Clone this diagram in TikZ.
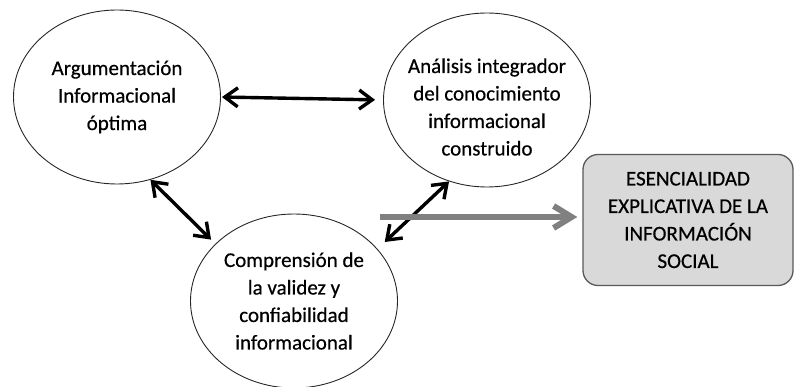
\documentclass[tikz,border=0pt]{standalone}
\usepackage{fontspec}
\setmainfont{Carlito}[FakeBold=0.5]
\usetikzlibrary{shapes.geometric, arrows.meta, positioning}

\begin{document}
\begin{tikzpicture}[
			x=1pt, y=-1pt,
			font=\fontsize{21}{27.5}\selectfont,
			% Style for the three ideas
			idea/.style={
				ellipse, draw=black!85, line width=0.9pt,
				minimum width=207pt, minimum height=174pt,
				inner sep=0pt, align=center
			},
			% Style for the final box
			result/.style={
				rectangle, rounded corners=15pt, draw=black!65, line width=1.3pt,
				fill=black!15, minimum width=210pt, minimum height=131pt,
				align=center
			},
			% Connectors
			link/.style={{Straight Barb[length=13pt,width=19pt]}-{Straight Barb[length=13pt,width=19pt]}, line width=3.4pt, black},
			leads/.style={-{Straight Barb[length=18pt,width=22pt]}, line width=6pt, black!50}
			]
			
			\useasboundingbox (0,0) rectangle (798,387);
			
			% ==============================================================================
			% IDEAS
			% ==============================================================================
			\node[idea] (Arg) at (117, 97) {Argumentación\\Informacional\\óptima};
			\node[idea] (Ana) at (487, 100) {};
			\node[align=center] (AnaText) at (487, 107) {Análisis integrador\\del conocimiento\\informacional\\construido};
			\node[idea] (Comp) at (294, 301) {Comprensión de\\la validez y\\confiabilidad\\informacional};
			
			% ==============================================================================
			% RESULT
			% ==============================================================================
			\node[result] (Res) at (688, 220) {ESENCIALIDAD\\EXPLICATIVA DE LA\\INFORMACIÓN\\SOCIAL};
			
			% ==============================================================================
			% CONNECTORS
			% ==============================================================================
			\draw[link, shorten <=1pt, shorten >=8pt] (Arg.east) -- (Ana.west);
			\draw[link, shorten >=6pt] (Arg.-68) -- (Comp.144);
			\draw[link, shorten >=10pt] (Ana.-115) -- (Comp.32);
			
			\coordinate (start) at (380, 217);
			\draw[leads, shorten >=5pt] (start) -- (start -| Res.west);
			
		\end{tikzpicture}
\end{document}
